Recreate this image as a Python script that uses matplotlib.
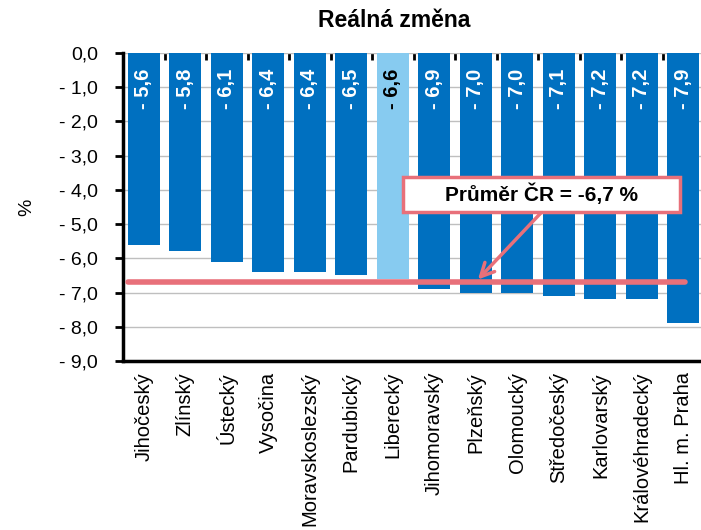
import numpy as np
import matplotlib.pyplot as plt
from matplotlib.patches import Rectangle

plt.rcParams['font.family'] = ['Liberation Sans', 'DejaVu Sans']

regions = ['Jihočeský', 'Zlínský', 'Ústecký', 'Vysočina', 'Moravskoslezský',
           'Pardubický', 'Liberecký', 'Jihomoravský', 'Plzeňský', 'Olomoucký',
           'Středočeský', 'Karlovarský', 'Královéhradecký', 'Hl. m. Praha']
change = [-5.6, -5.8, -6.1, -6.4, -6.4, -6.5, -6.6, -6.9, -7.0, -7.0, -7.1, -7.2, -7.2, -7.9]
highlight = 'Liberecký'
avg_cr = -6.7

def fmt(v):
    s = f'{abs(v):.1f}'.replace('.', ',')
    return s if v == 0 else '- ' + s

fig = plt.figure(figsize=(7.01, 5.30), dpi=100)
ax = fig.add_axes([0.1755, 0.319, 0.829, 0.581])

x = np.arange(len(regions))
colors = ['#87CBF0' if r == highlight else '#0070C0' for r in regions]
ax.bar(x, change, width=0.77, color=colors, zorder=2)

for xi, v, r in zip(x, change, regions):
    ax.text(xi, -0.45, fmt(v), rotation=90, ha='center', va='top',
            fontsize=14.5, fontweight='bold',
            color='black' if r == highlight else 'white', zorder=4)

ax.set_xlim(-0.5, len(regions) - 0.5)
ax.set_ylim(-9, 0)
yt = np.arange(0, -10, -1)
ax.set_yticks(yt)
ax.set_yticklabels([fmt(v) for v in yt], fontsize=14)
ax.yaxis.grid(True, color='#BFBFBF', lw=1, zorder=0)
ax.set_axisbelow(True)

ax.set_xticks(x)
ax.set_xticklabels(regions, rotation=90, fontsize=14.5, va='top')
ax.tick_params(axis='x', length=0, pad=8)
ax.set_xticks(np.arange(0.5, len(regions) - 0.5), minor=True)
ax.tick_params(axis='x', which='minor', length=5, width=2, direction='in', top=True, bottom=False)
ax.tick_params(axis='y', length=6, width=2, direction='out', pad=12)

for s in ['left', 'bottom']:
    ax.spines[s].set_linewidth(2.5)
ax.spines['top'].set_visible(False)
ax.spines['right'].set_visible(False)

ax.set_ylabel('%', fontsize=14, labelpad=17)
fig.text(0.562, 0.962, 'Reálná změna', ha='center', va='center',
         fontsize=16.5, fontweight='bold')

# average line
red = '#E8707A'
ax.hlines(avg_cr, -0.37, 13.05, color=red, lw=4, capstyle='round', zorder=3)
ax.add_patch(Rectangle((6.25, -4.65), 6.67, 1.03, fc='white', ec=red, lw=2.5, zorder=5))
ax.text(9.58, -4.12, 'Průměr ČR = -6,7 %', ha='center', va='center',
        fontsize=15, fontweight='bold', zorder=6)
ax.annotate('', xy=(8.05, -6.62), xytext=(9.57, -4.67),
            arrowprops=dict(arrowstyle='->', color=red, lw=2.5,
                            mutation_scale=24, shrinkA=0, shrinkB=0),
            zorder=5)

fig.savefig('out.png', dpi=100)
